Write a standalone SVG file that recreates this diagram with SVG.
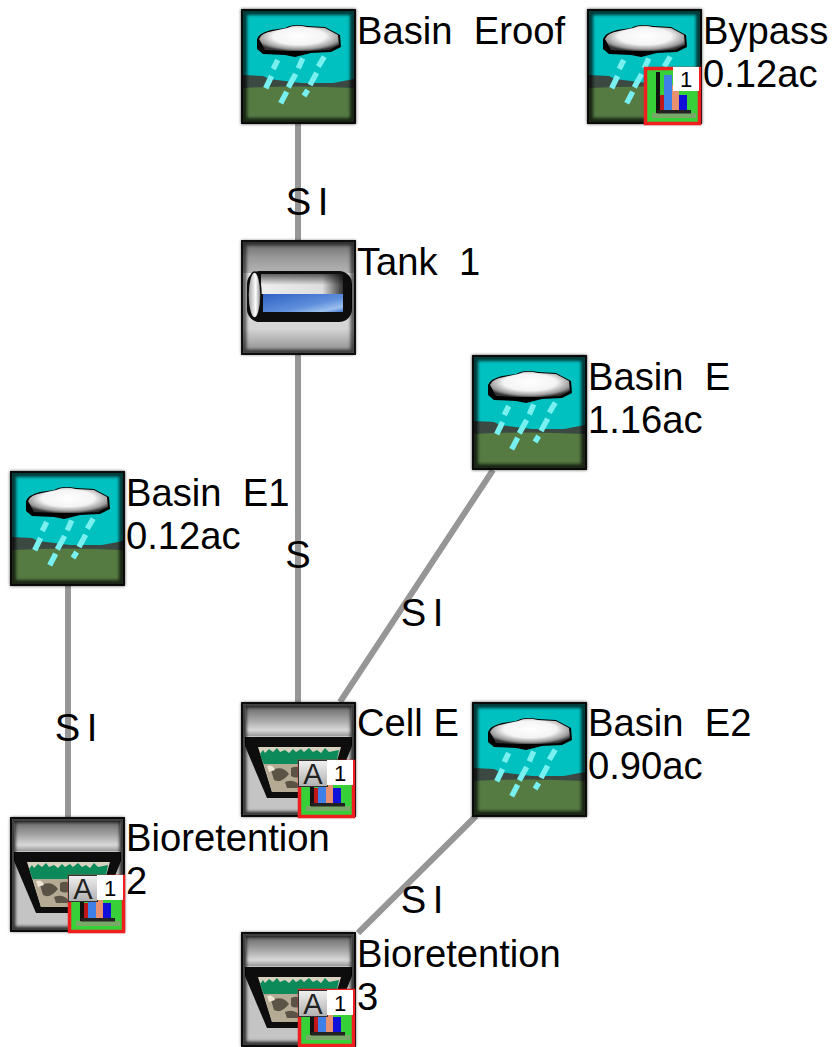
<svg xmlns="http://www.w3.org/2000/svg" width="832" height="1047" viewBox="0 0 832 1047">
<style>
text{font-family:"Liberation Sans",Arial,sans-serif;font-size:38.2px;fill:#000;white-space:pre}
.c{stroke:#969696;stroke-width:6;fill:none}
.cl{text-anchor:middle;word-spacing:-4px}
.n{font-size:22px;text-anchor:middle}
.a{font-size:29px;text-anchor:middle;fill:#222}
.d{stroke:#78f0f0;stroke-width:5.5;fill:none}
.badge{fill:url(#abg);stroke:#333;stroke-width:1}
.w{fill:#fff}
</style>
<defs>
<filter id="soft" x="-5%" y="-5%" width="110%" height="110%"><feGaussianBlur stdDeviation="0.7"/></filter>
<filter id="bevel" x="-5%" y="-5%" width="110%" height="110%"><feGaussianBlur stdDeviation="1.6"/></filter>
<filter id="wide" x="-20%" y="-20%" width="140%" height="140%"><feGaussianBlur stdDeviation="3"/></filter>
<radialGradient id="cloud" cx=".5" cy=".42" r=".6"><stop offset="0" stop-color="#fff"/><stop offset=".55" stop-color="#f4f4f4"/><stop offset=".85" stop-color="#9a9a9a"/><stop offset="1" stop-color="#333"/></radialGradient>
<linearGradient id="top" x1="0" y1="0" x2="0" y2="1"><stop offset="0" stop-color="#6a6a6a"/><stop offset=".5" stop-color="#999"/><stop offset="1" stop-color="#b4b4b4"/></linearGradient>
<linearGradient id="low" x1="0" y1="0" x2="0" y2="1"><stop offset="0" stop-color="#e4e4e4"/><stop offset=".7" stop-color="#d4d4d4"/><stop offset="1" stop-color="#8c8c8c"/></linearGradient>
<linearGradient id="band" x1="0" y1="0" x2="0" y2="1"><stop offset="0" stop-color="#666"/><stop offset=".5" stop-color="#aaa"/><stop offset=".8" stop-color="#d8d8d8"/><stop offset="1" stop-color="#999"/></linearGradient>
<linearGradient id="tube" x1="0" y1="0" x2="1" y2="0"><stop offset="0" stop-color="#eee"/><stop offset=".75" stop-color="#ddd"/><stop offset="1" stop-color="#333"/></linearGradient>
<linearGradient id="tubev" x1="0" y1="0" x2="0" y2="1"><stop offset="0" stop-color="#000" stop-opacity=".6"/><stop offset=".55" stop-color="#000" stop-opacity="0"/></linearGradient>
<linearGradient id="cap" x1="0" y1="0" x2="1" y2="0"><stop offset="0" stop-color="#999"/><stop offset=".6" stop-color="#fff"/><stop offset="1" stop-color="#777"/></linearGradient>
<linearGradient id="water" x1="0" y1="0" x2="1" y2="1"><stop offset="0" stop-color="#2f62c4"/><stop offset=".6" stop-color="#5f8fdc"/><stop offset=".85" stop-color="#9cc0ee"/><stop offset="1" stop-color="#3f74cd"/></linearGradient>
<linearGradient id="abg" x1="0" y1="0" x2="0" y2="1"><stop offset="0" stop-color="#f0f0f0"/><stop offset="1" stop-color="#b0b0b0"/></linearGradient>
<symbol id="basin" width="115" height="115" viewBox="0 0 115 115" overflow="visible">
<rect width="115" height="115" fill="#151515"/>
<g filter="url(#soft)">
<rect x="2" y="2" width="111" height="111" fill="#00c0c0"/>
<path d="M2 66 L22 67 L28 70 L60 74 L92 74 L113 70 V113 H2Z" fill="#3a4a42"/>
<path d="M2 79 Q55 76 113 79 V113 H2Z" fill="#557a42"/>
<rect x="3" y="3" width="109" height="109" fill="none" stroke="#000" stroke-opacity=".7" stroke-width="6" filter="url(#bevel)"/>
<path d="M16 30 Q18 24 30 21 L44 19 Q52 14 66 17 L84 18 L99 26 L100 38 L90 43 L70 44 L54 48 L44 46 L22 45 L16 40Z" fill="#000"/>
<path d="M18 30 Q20 24 32 22 L46 19 Q54 15 66 18 L84 19 L97 26 L98 36 L88 41 L68 42 L46 42 L24 41 Z" fill="url(#cloud)"/>
<path d="M36.700 51 L32.300 60M30.600 67 L24.700 79.300M61.700 49.300 L57.300 59.300M54.700 65 L47.300 78.300M45.700 82.700 L39.700 94.300M83.300 47.700 L77.300 57.700M75.700 63.700 L69 76M66.700 81 L63 87" class="d"/>
</g>
</symbol>
<symbol id="bio" width="115" height="115" viewBox="0 0 115 115" overflow="visible">
<rect width="115" height="115" fill="#151515"/>
<g filter="url(#soft)">
<rect x="2" y="2" width="111" height="111" fill="#c4c4c4"/>
<rect x="5" y="4" width="105" height="30" fill="url(#band)"/>
<path d="M4 35 H111 V44 L90 96 H26 L4 44Z" fill="#0c0c0c"/>
<path d="M17 45 H100 L87 90 H31Z" fill="#d8d2c0"/>
<path d="M19 52 L22 48 L24 51 L28 47 L32 50 L36 46 L39 50 L44 48 L48 51 L52 47 L55 50 L60 47 L63 50 L68 46 L72 50 L76 48 L80 51 L84 46 L88 50 L98 48 L95 63 H23Z" fill="#108a5a"/>
<path d="M23 62 H95 L87 90 H31Z" fill="#b5ab95"/>
<path d="M30 68 Q42 63 48 72 Q40 82 33 78ZM50 66 Q60 62 64 72 Q56 78 50 74ZM44 80 Q55 76 60 86 H46Z" fill="#5b5347"/>
<path d="M26 64 Q32 62 34 68 L28 70ZM66 66 Q74 62 80 70 L70 74ZM62 78 Q70 76 76 84 L64 88Z" fill="#eee6d2"/>
<path d="M4 46 L25 97 H91 L111 46 V112 H4Z" fill="#c4c4c4"/>
<rect x="3" y="3" width="109" height="109" fill="none" stroke="#000" stroke-opacity=".75" stroke-width="5" filter="url(#bevel)"/>
</g>
</symbol>
<symbol id="tank" width="115" height="115" viewBox="0 0 115 115" overflow="visible">
<rect width="115" height="115" fill="#151515"/>
<g filter="url(#soft)">
<rect x="2" y="2" width="111" height="31" fill="url(#top)"/>
<rect x="2" y="33" width="111" height="80" fill="url(#low)"/>
<rect x="6" y="31" width="105" height="51" rx="13" fill="#0a0a0a"/>
<rect x="20" y="34" width="82" height="20" fill="url(#tube)"/>
<rect x="20" y="34" width="82" height="20" fill="url(#tubev)"/>
<rect x="22" y="54" width="80" height="18" fill="url(#water)"/>
<ellipse cx="13.500" cy="55" rx="6.500" ry="23" fill="url(#cap)" stroke="#111" stroke-width="1.500"/>
<rect x="3" y="3" width="109" height="109" fill="none" stroke="#000" stroke-opacity=".6" stroke-width="5" filter="url(#bevel)"/>
</g>
</symbol>
<symbol id="chart" width="58" height="58" viewBox="0 0 58 58" overflow="visible">
<rect x="1.500" y="1.500" width="54" height="55" fill="#38d038" stroke="#f01f1f" stroke-width="3.500"/>
<rect x="8" y="46" width="44" height="5" fill="#7aa868"/>
<rect x="12" y="5" width="4" height="41" fill="#111"/>
<rect x="16" y="28" width="4" height="15" fill="#c01818"/>
<rect x="20" y="8" width="8" height="35" fill="#3f7fe8"/>
<rect x="28" y="18" width="7" height="25" fill="#e89070"/>
<rect x="35" y="28" width="8" height="15" fill="#1010d8"/>
<rect x="13" y="43" width="34" height="3.500" fill="#222"/>
</symbol>
</defs>
<g id="connectors">
<path class="c" d="M298 124V240"/>
<path class="c" d="M298 355V702"/>
<path class="c" d="M493 470L340 702"/>
<path class="c" d="M68 586V817"/>
<path class="c" d="M476 816L358 933"/>
<text x="307" y="215" class="cl">S I</text>
<text x="298" y="568" class="cl">S</text>
<text x="422" y="626" class="cl">S I</text>
<text x="76" y="741" class="cl">S I</text>
<text x="422" y="913" class="cl">S I</text>
</g>
<g id="basin-eroof"><use href="#basin" x="241" y="9"/><text x="357" y="44">Basin  Eroof</text></g>
<g id="bypass"><use href="#basin" x="587" y="9"/><use href="#chart" x="644" y="67"/><rect class="w" x="673" y="67" width="26" height="24"/><text class="n" x="686" y="87">1</text><text x="703" y="44">Bypass</text><text x="703" y="87">0.12ac</text></g>
<g id="tank-1"><use href="#tank" x="241" y="240"/><text x="357" y="275">Tank  1</text></g>
<g id="basin-e"><use href="#basin" x="472" y="355"/><text x="588" y="390">Basin  E</text><text x="588" y="433">1.16ac</text></g>
<g id="basin-e1"><use href="#basin" x="10" y="471"/><text x="126" y="506">Basin  E1</text><text x="126" y="549">0.12ac</text></g>
<g id="cell-e"><use href="#bio" x="241" y="702"/><use href="#chart" x="298" y="760"/><rect class="badge" x="298.500" y="760.500" width="29" height="26"/><text class="a" x="313" y="784">A</text><rect class="w" x="327" y="760" width="26" height="25"/><text class="n" x="340" y="781">1</text><text x="357" y="736">Cell E</text></g>
<g id="basin-e2"><use href="#basin" x="472" y="702"/><text x="588" y="736">Basin  E2</text><text x="588" y="779">0.90ac</text></g>
<g id="bioretention-2"><use href="#bio" x="10" y="817"/><use href="#chart" x="68" y="875"/><rect class="badge" x="68.500" y="875.500" width="29" height="26"/><text class="a" x="83" y="899">A</text><rect class="w" x="97" y="875" width="26" height="25"/><text class="n" x="110" y="896">1</text><text x="126" y="851">Bioretention</text><text x="126" y="894">2</text></g>
<g id="bioretention-3"><use href="#bio" x="241" y="932"/><use href="#chart" x="298" y="989"/><rect class="badge" x="298.500" y="990.500" width="29" height="26"/><text class="a" x="313" y="1014">A</text><rect class="w" x="327" y="990" width="26" height="25"/><text class="n" x="340" y="1011">1</text><text x="357" y="967">Bioretention</text><text x="357" y="1010">3</text></g>
</svg>
